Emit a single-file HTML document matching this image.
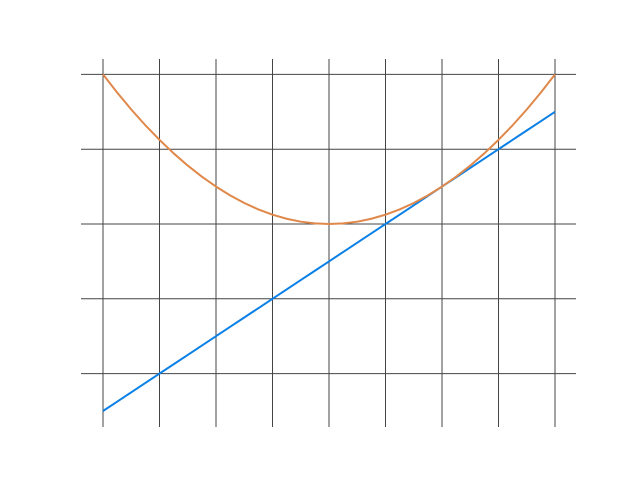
<!DOCTYPE html>
<html><head><meta charset="utf-8"><style>
html,body{margin:0;padding:0;background:#fff;}
svg{display:block;}
</style></head><body>
<svg id="chart" width="640" height="480" viewBox="0 0 640 480">
<g id="grid"></g>
<g id="series"></g>
</svg>
<script>
const xTicks = [-4,-3,-2,-1,0,1,2,3,4];
const yTicks = [2,1,0,-1,-2];
const xs = [-4,-3.75,-3.5,-3.25,-3,-2.75,-2.5,-2.25,-2,-1.75,-1.5,-1.25,-1,-0.75,-0.5,-0.25,0,0.25,0.5,0.75,1,1.25,1.5,1.75,2,2.25,2.5,2.75,3,3.25,3.5,3.75,4];
const linearValues = [-2.5,-2.375,-2.25,-2.125,-2,-1.875,-1.75,-1.625,-1.5,-1.375,-1.25,-1.125,-1,-0.875,-0.75,-0.625,-0.5,-0.375,-0.25,-0.125,0,0.125,0.25,0.375,0.5,0.625,0.75,0.875,1,1.125,1.25,1.375,1.5];
const quadValues = [2,1.758,1.531,1.320,1.125,0.945,0.781,0.633,0.5,0.383,0.281,0.195,0.125,0.070,0.031,0.008,0,0.008,0.031,0.070,0.125,0.195,0.281,0.383,0.5,0.633,0.781,0.945,1.125,1.320,1.531,1.758,2];

const X = v => 329 + v*56.5;
const Y = v => 224 - v*74.8;
const NS = "http://www.w3.org/2000/svg";
const grid = document.getElementById('grid');
const series = document.getElementById('series');

xTicks.forEach(t=>{
  const l=document.createElementNS(NS,'line');
  l.setAttribute('x1',X(t));l.setAttribute('x2',X(t));
  l.setAttribute('y1',59);l.setAttribute('y2',427);
  l.setAttribute('stroke','#444');l.setAttribute('stroke-width','1');
  
  
  grid.appendChild(l);
});
yTicks.forEach(t=>{
  const l=document.createElementNS(NS,'line');
  l.setAttribute('x1',81);l.setAttribute('x2',576);
  l.setAttribute('y1',Y(t));l.setAttribute('y2',Y(t));
  l.setAttribute('stroke','#444');l.setAttribute('stroke-width','1');
  
  
  grid.appendChild(l);
});
function drawLine(vals,color,name){
  const p=document.createElementNS(NS,'polyline');
  p.setAttribute('points',xs.map((x,i)=>X(x)+','+Y(vals[i])).join(' '));
  p.setAttribute('fill','none');p.setAttribute('stroke',color);p.setAttribute('stroke-width','2');
  p.setAttribute('stroke-linejoin','round');
  
  
  series.appendChild(p);
}
drawLine(linearValues,'#0a80e6','linear-series');
drawLine(quadValues,'#e0884a','quadratic-series');
</script>
</body></html>
